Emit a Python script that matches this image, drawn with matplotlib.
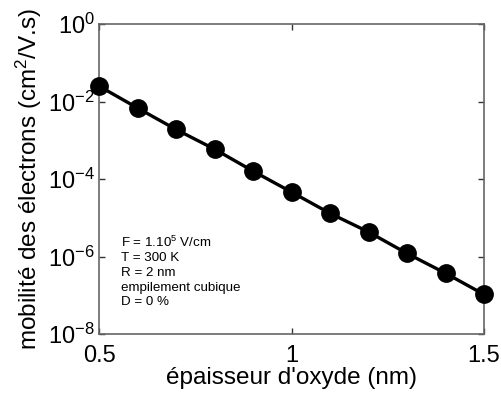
import numpy as np
import matplotlib
matplotlib.use('Agg')
import matplotlib.pyplot as plt

plt.rcParams['font.family'] = ['Liberation Sans', 'DejaVu Sans']
plt.rcParams['mathtext.fontset'] = 'custom'
plt.rcParams['mathtext.rm'] = 'Liberation Sans'
plt.rcParams['mathtext.it'] = 'Liberation Sans'

# data
thickness = [0.5, 0.6, 0.7, 0.8, 0.9, 1.0, 1.1, 1.2, 1.3, 1.4, 1.5]
mobility = [2.5e-2, 6.8e-3, 1.9e-3, 5.9e-4, 1.6e-4, 4.6e-5,
            1.3e-5, 4.3e-6, 1.2e-6, 3.7e-7, 1.05e-7]
x_ticks = [0.5, 1, 1.5]
x_tick_labels = ['0.5', '1', '1.5']
y_ticks = [1e0, 1e-2, 1e-4, 1e-6, 1e-8]
y_tick_labels = [r'$10^{0}$', r'$10^{-2}$', r'$10^{-4}$', r'$10^{-6}$', r'$10^{-8}$']
notes = ['F = 1.10$^5$ V/cm', 'T = 300 K', 'R = 2 nm',
         'empilement cubique', 'D = 0 %']

fig = plt.figure(figsize=(5.01, 3.99), dpi=100)
ax = fig.add_axes([99 / 501, 65 / 399, 385 / 501, 310 / 399])

ax.plot(thickness, mobility, color='black', linewidth=2.4,
        marker='o', markersize=12.5, markerfacecolor='black', clip_on=False,
        zorder=3)

ax.set_yscale('log')
ax.set_xlim(0.5, 1.5)
ax.set_ylim(1e-8, 1e0)
ax.set_xticks(x_ticks)
ax.set_xticklabels(x_tick_labels)
ax.set_yticks(y_ticks)
ax.set_yticklabels(y_tick_labels)
ax.minorticks_off()
ax.tick_params(direction='in', top=True, right=True, length=4,
               width=1, labelsize=17, color='#333333')
ax.tick_params(axis='x', pad=8)
ax.tick_params(axis='y', pad=3)
for spine in ax.spines.values():
    spine.set_edgecolor('#666666')
    spine.set_linewidth(1.2)

ax.set_xlabel("épaisseur d'oxyde (nm)", fontsize=17.5, labelpad=0)
ax.set_ylabel('mobilité des électrons (cm$^2$/V.s)', fontsize=17.5, labelpad=3)

y0 = 0.294
for i, t in enumerate(notes):
    ax.text(0.057, y0 - i * 0.048, t, transform=ax.transAxes,
            fontsize=9.6, va='center', ha='left')

fig.savefig('out.png', dpi=100)
